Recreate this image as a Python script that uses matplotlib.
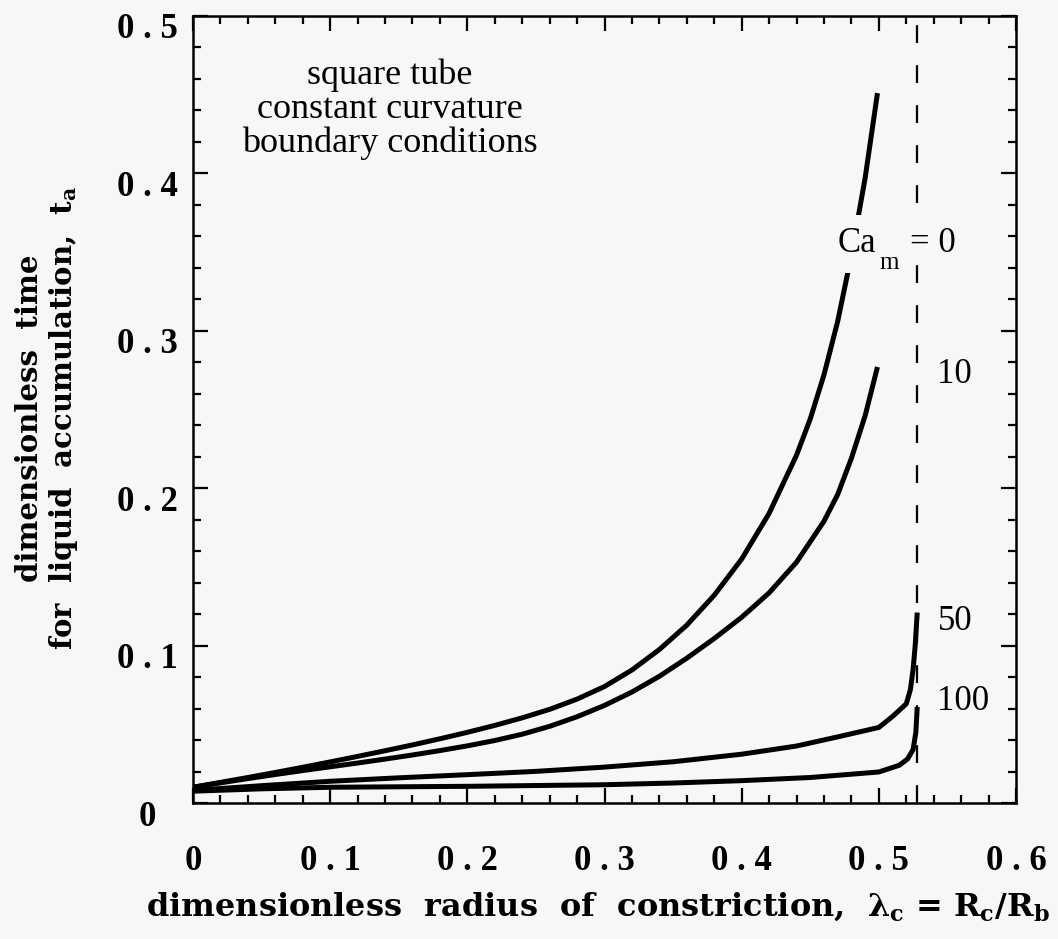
import matplotlib
matplotlib.use("Agg")
import matplotlib.pyplot as plt
import matplotlib.transforms as mtransforms
from matplotlib.font_manager import FontProperties
from matplotlib.ticker import MultipleLocator

# ---------------- data ----------------
x_ca0 = [0.0, 0.02, 0.04, 0.06, 0.08, 0.10, 0.12, 0.14, 0.16, 0.18, 0.20, 0.22, 0.24,
         0.26, 0.28, 0.30, 0.32, 0.34, 0.36, 0.38, 0.40, 0.42, 0.44, 0.45, 0.46, 0.47,
         0.48, 0.49, 0.499]
y_ca0 = [0.0100, 0.0131, 0.0162, 0.0194, 0.0227, 0.0261, 0.0296, 0.0332, 0.0369, 0.0408,
         0.0449, 0.0493, 0.0541, 0.0595, 0.0660, 0.0740, 0.0845, 0.0975, 0.1130, 0.1320,
         0.1550, 0.1840, 0.2210, 0.2440, 0.2720, 0.3060, 0.3480, 0.3970, 0.4510]

x_ca10 = [0.0, 0.02, 0.04, 0.06, 0.08, 0.10, 0.12, 0.14, 0.16, 0.18, 0.20, 0.22, 0.24,
          0.26, 0.28, 0.30, 0.32, 0.34, 0.36, 0.38, 0.40, 0.42, 0.44, 0.46, 0.47, 0.48,
          0.49, 0.499]
y_ca10 = [0.0100, 0.0128, 0.0155, 0.0181, 0.0206, 0.0230, 0.0254, 0.0279, 0.0305, 0.0333,
          0.0363, 0.0397, 0.0437, 0.0487, 0.0548, 0.0620, 0.0705, 0.0805, 0.0920, 0.1045,
          0.1180, 0.1335, 0.1530, 0.1790, 0.1960, 0.2190, 0.2460, 0.2770]

x_ca50 = [0.0, 0.05, 0.10, 0.15, 0.20, 0.25, 0.30, 0.35, 0.40, 0.44, 0.47, 0.50, 0.51,
          0.52, 0.523, 0.525, 0.5265, 0.528]
y_ca50 = [0.0080, 0.0110, 0.0138, 0.0160, 0.0180, 0.0201, 0.0228, 0.0262, 0.0310, 0.0362,
          0.0420, 0.0480, 0.0550, 0.0630, 0.0720, 0.0850, 0.1000, 0.1210]

x_ca100 = [0.0, 0.05, 0.10, 0.20, 0.30, 0.35, 0.40, 0.45, 0.50, 0.515, 0.521, 0.525,
           0.527, 0.528]
y_ca100 = [0.0075, 0.0090, 0.0100, 0.0106, 0.0116, 0.0127, 0.0142, 0.0162, 0.0197, 0.0240,
           0.0280, 0.0340, 0.0450, 0.0610]

lambda_limit = 0.528

curve_labels = ["10", "50", "100"]
ca_label = ("Ca", "m", "= 0")

x_ticks = [0.0, 0.1, 0.2, 0.3, 0.4, 0.5, 0.6]
x_tick_labels = ["0", "0 . 1", "0 . 2", "0 . 3", "0 . 4", "0 . 5", "0 . 6"]
y_ticks = [0.0, 0.1, 0.2, 0.3, 0.4, 0.5]
y_tick_labels = ["0", "0 . 1", "0 . 2", "0 . 3", "0 . 4", "0 . 5"]

annotation = "square tube\nconstant curvature\nboundary conditions"
x_label = (r"dimensionless  radius  of  constriction,  "
           r"$\lambda_\mathrm{c}$ = R$_\mathrm{c}$/R$_\mathrm{b}$")
y_label = "dimensionless  time\nfor  liquid  accumulation,  " + r"t$_\mathrm{a}$"

# ---------------- style ----------------
BG = "#f7f7f7"
plt.rcParams["mathtext.fontset"] = "custom"
plt.rcParams["mathtext.rm"] = "DejaVu Serif:bold"
plt.rcParams["mathtext.it"] = "DejaVu Serif:bold"
plt.rcParams["mathtext.bf"] = "DejaVu Serif:bold"

W, H, DPI = 1058, 939, 100
fig = plt.figure(figsize=(W / DPI, H / DPI), dpi=DPI, facecolor=BG)
ax = fig.add_axes([193 / W, 1 - 803 / H, (1016 - 193) / W, (803 - 16) / H])
ax.set_facecolor(BG)

lw = 3.6
for xs, ys in [(x_ca0, y_ca0), (x_ca10, y_ca10), (x_ca50, y_ca50), (x_ca100, y_ca100)]:
    ax.plot(xs, ys, color="black", lw=lw, solid_capstyle="butt",
            solid_joinstyle="round", zorder=3)

ax.axvline(lambda_limit, color="black", lw=1.6, dashes=(8, 10), zorder=2)

ax.set_xlim(0, 0.6)
ax.set_ylim(0, 0.5)

ax.xaxis.set_minor_locator(MultipleLocator(0.02))
ax.yaxis.set_minor_locator(MultipleLocator(0.02))
ax.set_xticks(x_ticks)
ax.set_xticklabels(x_tick_labels)
ax.set_yticks(y_ticks)
ax.set_yticklabels(y_tick_labels)

ax.tick_params(which="both", direction="in", top=True, right=True, width=1.6, colors="black")
ax.tick_params(which="major", length=11)
ax.tick_params(which="minor", length=5.5)
ax.tick_params(axis="x", which="major", pad=30)
ax.tick_params(axis="y", which="major", pad=33)
for s in ax.spines.values():
    s.set_linewidth(1.8)

tick_fp = FontProperties(family="Liberation Serif", weight="bold", size=25)
for lab in ax.get_xticklabels():
    lab.set_fontproperties(tick_fp)
yoff = mtransforms.ScaledTranslation(0, -10 / DPI, fig.dpi_scale_trans)
for lab in ax.get_yticklabels():
    lab.set_fontproperties(tick_fp)
    lab.set_ha("center")
    lab.set_transform(lab.get_transform() + yoff)

# annotation block
ax.text(0.1436, 0.473, annotation, family="Liberation Serif", size=26, ha="center",
        va="top", linespacing=1.03, zorder=4)

# Ca_m = 0 label (masks the Ca=0 curve behind it)
ax.text(0.470, 0.350, ca_label[0], family="Liberation Serif", size=25, ha="left",
        va="baseline", zorder=5, bbox=dict(facecolor=BG, edgecolor="none", pad=9))
ax.text(0.5007, 0.3395, ca_label[1], family="Liberation Serif", size=18, ha="left",
        va="baseline", zorder=6)
ax.text(0.5226, 0.350, ca_label[2], family="Liberation Serif", size=25, ha="left",
        va="baseline", zorder=6, bbox=dict(facecolor=BG, edgecolor="none", pad=2))

# other curve labels
ax.text(0.5423, 0.267, curve_labels[0], family="Liberation Serif", size=25, ha="left",
        va="baseline", zorder=5)
ax.text(0.543, 0.110, curve_labels[1], family="Liberation Serif", size=25, ha="left",
        va="baseline", zorder=5)
ax.text(0.5423, 0.059, curve_labels[2], family="Liberation Serif", size=25, ha="left",
        va="baseline", zorder=5)

# axis labels
fig.text(598 / W, 1 - 916 / H, x_label, family="DejaVu Serif", weight="bold", size=23,
         ha="center", va="baseline")
fig.text(48 / W, 1 - 418 / H, y_label, family="DejaVu Serif", weight="bold", size=21,
         ha="center", va="center", rotation=90, linespacing=1.12, multialignment="center")

fig.savefig("out.png", dpi=DPI, facecolor=BG)
